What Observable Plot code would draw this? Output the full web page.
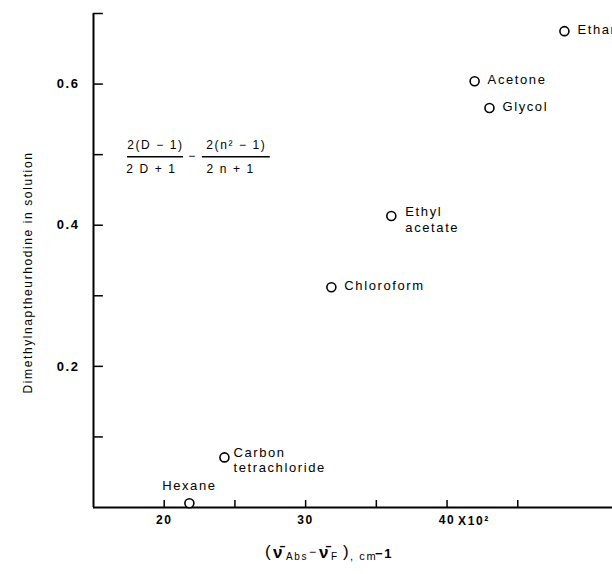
<!DOCTYPE html>
<html><head><meta charset="utf-8">
<script src="https://cdn.jsdelivr.net/npm/d3@7"></script>
<script src="https://cdn.jsdelivr.net/npm/@observablehq/plot@0.6"></script>
<style>
body{margin:0;background:#fff}
#chart svg text{letter-spacing:1.6px}
#chart svg .nosp text{letter-spacing:0}
</style></head><body><div id="chart"></div>
<script>
const solvents = ["Ethanol","Acetone","Glycol","Ethyl\nacetate","Chloroform","Carbon\ntetrachloride","Hexane"];
const shift = [48.3, 41.95, 43.0, 36.06, 31.82, 24.26, 21.78];
const absorb = [0.675, 0.604, 0.566, 0.413, 0.312, 0.071, 0.006];
const xTicks = [20,25,30,35,40,45];
const xTickLabels = [20,30,40];
const yTicks = [0.1,0.2,0.3,0.4,0.5,0.6,0.7];
const yTickLabels = [0.2,0.4,0.6];
const yTitle = "Dimethylnaptheurhodine in solution";

const data = solvents.map((name,i)=>({name, x: shift[i], y: absorb[i]}));
const ident = d => d;
const font = "'Liberation Sans', Arial, Helvetica, sans-serif";
const piece = (s, dx, dy, o = {}) => Plot.text([s], {text: ident, frameAnchor: "bottom", dx, dy, textAnchor: "start", lineAnchor: "middle", ...o});

const chart = Plot.plot({
  width: 612, height: 574,
  marginLeft: 93, marginRight: 0, marginTop: 13, marginBottom: 67,
  x: {domain: [15, 51.7], axis: null, label: null},
  y: {domain: [0, 0.7], axis: null, label: null},
  style: {fontFamily: font, fontSize: "13px", background: "white", color: "black"},
  marks: [
    Plot.ruleX([15], {y1: 0, y2: 0.7, strokeWidth: 2}),
    Plot.ruleY([0], {strokeWidth: 2}),
    Plot.ruleY(yTicks, {x1: 15, x2: 15.7, strokeWidth: 1.5}),
    Plot.ruleX(xTicks, {y1: 0, y2: 0.0099, strokeWidth: 1.5}),
    Plot.axisY({ticks: yTickLabels, tickSize: 0, tickPadding: 14,
      tickFormat: d => d.toFixed(1), fontSize: 13, fontWeight: "bold"}),
    Plot.axisX({ticks: xTickLabels, tickSize: 0, tickPadding: 8,
      tickFormat: d => String(d), fontSize: 12, fontWeight: "bold"}),
    Plot.text(["X10²"], {text: ident, x: 40, y: 0, dx: 11, dy: 14, textAnchor: "start", lineAnchor: "middle", fontSize: 12, fontWeight: "bold"}),
    // fraction annotation
    Plot.ruleY([0.5], {x1: 17.4, x2: 21.36, strokeWidth: 1.5, dy: 2}),
    Plot.ruleY([0.5], {x1: 22.7, x2: 27.5, strokeWidth: 1.5, dy: 2}),
    Plot.text(["2(D − 1)"], {text: ident, x: 19.38, y: 0.5, dy: -9, fontSize: 12}),
    Plot.text(["2 D + 1"], {text: ident, x: 19.1, y: 0.5, dy: 15, fontSize: 12}),
    Plot.text(["−"], {text: ident, x: 22.0, y: 0.5, dy: 2, fontSize: 12}),
    Plot.text(["2(n² − 1)"], {text: ident, x: 25.1, y: 0.5, dy: -9, fontSize: 12}),
    Plot.text(["2 n + 1"], {text: ident, x: 24.7, y: 0.5, dy: 15, fontSize: 12}),
    // data
    Plot.dot(data, {x: "x", y: "y", r: 4.5, stroke: "black", strokeWidth: 1.6, fill: "white"}),
    Plot.text(data, {filter: d => !["Hexane", "Carbon\ntetrachloride", "Ethyl\nacetate"].includes(d.name),
      x: "x", y: "y", text: "name", textAnchor: "start", dx: 13, dy: -1, fontSize: 13}),
    Plot.text(data, {filter: d => d.name === "Ethyl\nacetate",
      x: "x", y: "y", text: "name", textAnchor: "start", dx: 14, dy: 3, fontSize: 13, lineHeight: 1.2}),
    Plot.text(data, {filter: d => d.name === "Carbon\ntetrachloride",
      x: "x", y: "y", text: "name", textAnchor: "start", dx: 9, dy: 2, fontSize: 13, lineHeight: 1.15}),
    Plot.text(data, {filter: d => d.name === "Hexane",
      x: "x", y: "y", text: "name", textAnchor: "middle", dy: -17, fontSize: 13}),
    // y title
    Plot.text([yTitle], {text: ident, frameAnchor: "left", textAnchor: "middle", dx: -65, dy: 12, rotate: -90, fontSize: 12}),
    // x title pieces
    piece("(", -88, 44, {fontSize: 17}),
    piece("ν\u0304", -80, 45, {fontSize: 17, fontWeight: "bold", className: "nosp"}),
    piece("Abs", -67, 49, {fontSize: 10}),
    piece("−", -44, 45, {fontSize: 12}),
    piece("ν\u0304", -34, 45, {fontSize: 17, fontWeight: "bold", className: "nosp"}),
    piece("F", -22, 49, {fontSize: 10}),
    piece(")", -10, 44, {fontSize: 17}),
    piece(", cm", -3, 49, {fontSize: 11}),
    piece("−1", 22, 46, {fontSize: 13, fontWeight: "bold"})
  ]
});
document.getElementById("chart").appendChild(chart);
</script></body></html>
